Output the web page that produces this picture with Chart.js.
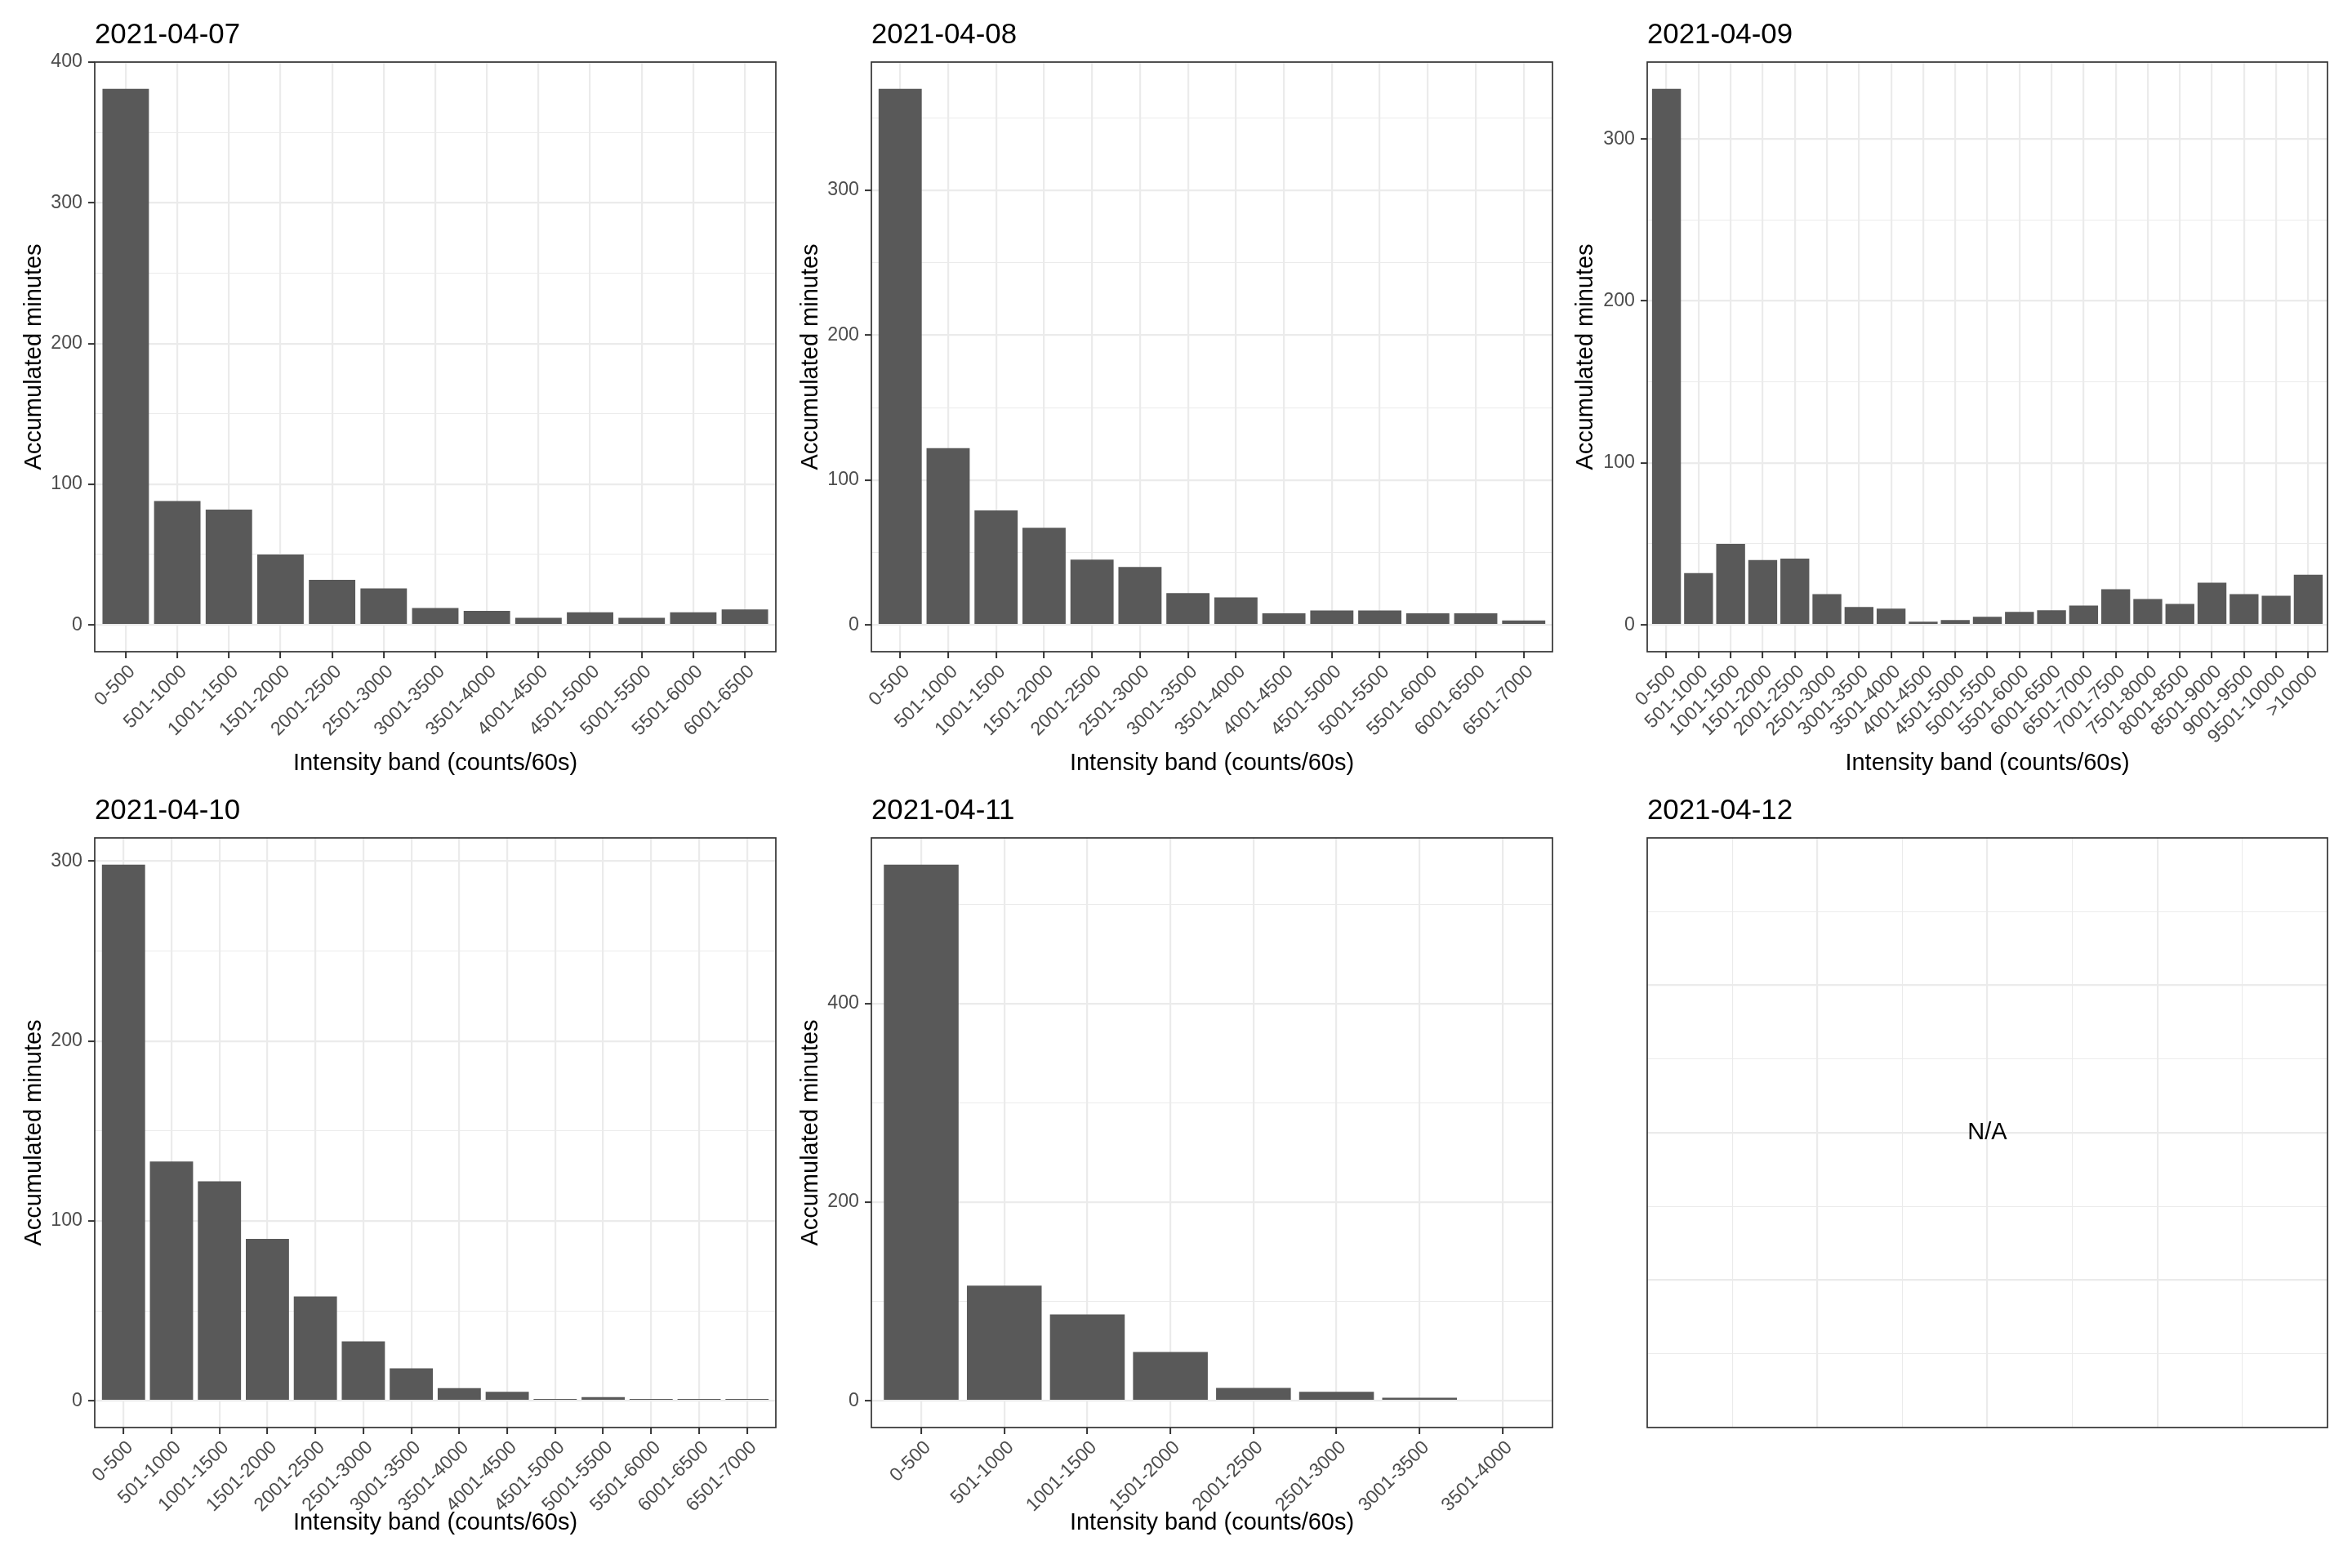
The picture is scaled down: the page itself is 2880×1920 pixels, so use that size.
<!DOCTYPE html>
<html>
<head>
<meta charset="utf-8">
<script src="https://cdn.jsdelivr.net/npm/chart.js@4.4.1/dist/chart.umd.min.js"></script>
<style>
	body { margin: 0; background: #ffffff; }
	#wrap { position: relative; width: 2880px; height: 1920px; background: #ffffff; }
	canvas { position: absolute; }
</style>
</head>
<body>
<div id="wrap">
	<canvas id="c1" width="960" height="960" style="left:0px;top:0px"></canvas>
	<canvas id="c2" width="960" height="960" style="left:960px;top:0px"></canvas>
	<canvas id="c3" width="960" height="960" style="left:1920px;top:0px"></canvas>
	<canvas id="c4" width="960" height="960" style="left:0px;top:960px"></canvas>
	<canvas id="c5" width="960" height="960" style="left:960px;top:960px"></canvas>
	<canvas id="c6" width="960" height="960" style="left:1920px;top:960px"></canvas>
</div>
<script>
// intensity bands (counts/60s)
var bands = ["0-500", "501-1000", "1001-1500", "1501-2000", "2001-2500", "2501-3000", "3001-3500",
	"3501-4000", "4001-4500", "4501-5000", "5001-5500", "5501-6000", "6001-6500", "6501-7000",
	"7001-7500", "7501-8000", "8001-8500", "8501-9000", "9001-9500", "9501-10000", ">10000"];

var labels0407 = bands.slice(0, 13);
var labels0408 = bands.slice(0, 14);
var labels0409 = bands.slice(0, 21);
var labels0410 = bands.slice(0, 14);
var labels0411 = bands.slice(0, 8);

// accumulated minutes per band
var minutes0407 = [381, 88, 82, 50, 32, 26, 12, 10, 5, 9, 5, 9, 11];
var minutes0408 = [370, 122, 79, 67, 45, 40, 22, 19, 8, 10, 10, 8, 8, 3];
var minutes0409 = [331, 32, 50, 40, 41, 19, 11, 10, 2, 3, 5, 8, 9, 12, 22, 16, 13, 26, 19, 18, 31];
var minutes0410 = [298, 133, 122, 90, 58, 33, 18, 7, 5, 1, 2, 1, 1, 1];
var minutes0411 = [540, 116, 87, 49, 13, 9, 3, 1];

// y tick labels (major) and minor grid lines
var yTicks0407 = [0, 100, 200, 300, 400];
var yMinor0407 = [50, 150, 250, 350];
var yTicks0408 = [0, 100, 200, 300];
var yMinor0408 = [50, 150, 250, 350];
var yTicks0409 = [0, 100, 200, 300];
var yMinor0409 = [50, 150, 250];
var yTicks0410 = [0, 100, 200, 300];
var yMinor0410 = [50, 150, 250];
var yTicks0411 = [0, 200, 400];
var yMinor0411 = [100, 300, 500];

var xTitle = "Intensity band (counts/60s)";
var yTitle = "Accumulated minutes";

Chart.defaults.font.family = '"Liberation Sans", Arial, Helvetica, sans-serif';

// panel frame + left aligned title (+ optional centred note)
var frame = {
	id: "frame",
	afterDraw: function(chart, args, opts) {
		var a = chart.chartArea;
		var c = chart.ctx;
		c.save();
		c.strokeStyle = "#333333";
		c.lineWidth = 1.7;
		c.strokeRect(a.left, a.top, a.right - a.left, a.bottom - a.top);
		c.fillStyle = "#000000";
		c.font = '34.8px "Liberation Sans", Arial, sans-serif';
		c.textAlign = "left";
		c.textBaseline = "alphabetic";
		c.fillText(opts.text, a.left, a.top - 23);
		if (opts.note) {
			c.font = '29px "Liberation Sans", Arial, sans-serif';
			c.textAlign = "center";
			c.textBaseline = "middle";
			c.fillText(opts.note, (a.left + a.right) / 2, (a.top + a.bottom) / 2);
		}
		c.restore();
	}
};

function barPanel(p) {
	var ymax = Math.max.apply(null, p.values);
	var lo = -0.05 * ymax, hi = 1.05 * ymax;
	var yAll = p.major.concat(p.minor).filter(function(v) { return v <= hi; });
	var isMajor = function(ctx) { return ctx && ctx.tick && p.major.indexOf(ctx.tick.value) >= 0; };

	new Chart(document.getElementById(p.id), {
		type: "bar",
		data: {
			datasets: [{
				data: p.values.map(function(v, i) { return {x: i, y: v}; }),
				backgroundColor: "#595959",
				borderWidth: 0,
				barPercentage: 0.9,
				categoryPercentage: 1.0
			}]
		},
		plugins: [frame],
		options: {
			responsive: false,
			animation: false,
			devicePixelRatio: 1,
			layout: { padding: { left: 0, top: p.top, right: 960 - p.right, bottom: 0 } },
			plugins: {
				legend: { display: false },
				tooltip: { enabled: false },
				frame: { text: p.title }
			},
			scales: {
				x: {
					type: "linear",
					offset: false,
					bounds: "data",
					min: -0.6,
					max: p.labels.length - 0.4,
					afterBuildTicks: function(s) {
						s.ticks = p.labels.map(function(l, i) { return {value: i}; });
					},
					afterFit: function(s) {
						s.height = 960 - p.bottom;
						s.paddingLeft = 0;
						s.paddingRight = 0;
					},
					grid: {
						offset: false,
						color: "#EBEBEB",
						lineWidth: 2.2,
						tickColor: "#333333",
						tickLength: 8,
						tickWidth: 2
					},
					border: { display: false },
					ticks: {
						autoSkip: false,
						minRotation: 45,
						maxRotation: 45,
						padding: 3,
						labelOffset: 8,
						color: "#4D4D4D",
						font: { size: 23.2 },
						callback: function(v) { return p.labels[v]; }
					},
					title: {
						display: true,
						text: xTitle,
						color: "#000000",
						font: { size: 29 },
						padding: { top: 0, bottom: p.xPad }
					}
				},
				y: {
					type: "linear",
					bounds: "data",
					min: lo,
					max: hi,
					afterBuildTicks: function(s) {
						s.ticks = yAll.map(function(v) { return {value: v}; });
					},
					afterFit: function(s) {
						s.width = p.left;
						s.paddingTop = 0;
						s.paddingBottom = 0;
					},
					grid: {
						color: "#EBEBEB",
						lineWidth: function(ctx) { return isMajor(ctx) ? 2.2 : 1.1; },
						tickColor: function(ctx) { return isMajor(ctx) ? "#333333" : "rgba(0,0,0,0)"; },
						tickLength: 8,
						tickWidth: 2
					},
					border: { display: false },
					ticks: {
						padding: 7,
						color: "#4D4D4D",
						font: { size: 23.2 },
						callback: function(v) { return p.major.indexOf(v) >= 0 ? String(v) : ""; }
					},
					title: {
						display: true,
						text: yTitle,
						color: "#000000",
						font: { size: 29 },
						padding: { top: p.yPad, bottom: 0 }
					}
				}
			}
		}
	});
}

function emptyPanel(p) {
	var lines = [1, 2, 3, 4, 5, 6, 7];
	var lw = function(ctx) { return ctx && ctx.tick && ctx.tick.value % 2 === 0 ? 2.2 : 1.1; };
	var axis = function(isX) {
		return {
			type: "linear",
			bounds: "data",
			min: 0,
			max: 8,
			afterBuildTicks: function(s) {
				s.ticks = lines.map(function(v) { return {value: v}; });
			},
			afterFit: function(s) {
				if (isX) { s.height = 960 - p.bottom; } else { s.width = p.left; }
				s.paddingLeft = 0; s.paddingRight = 0; s.paddingTop = 0; s.paddingBottom = 0;
			},
			grid: { color: "#EBEBEB", lineWidth: lw, drawTicks: false },
			border: { display: false },
			ticks: { display: false }
		};
	};
	new Chart(document.getElementById(p.id), {
		type: "scatter",
		data: { datasets: [{ data: [] }] },
		plugins: [frame],
		options: {
			responsive: false,
			animation: false,
			devicePixelRatio: 1,
			layout: { padding: { left: 0, top: p.top, right: 960 - p.right, bottom: 0 } },
			plugins: {
				legend: { display: false },
				tooltip: { enabled: false },
				frame: { text: p.title, note: "N/A" }
			},
			scales: { x: axis(true), y: axis(false) }
		}
	});
}

barPanel({ id: "c1", title: "2021-04-07", labels: labels0407, values: minutes0407, major: yTicks0407, minor: yMinor0407,
	left: 116, right: 950, top: 76, bottom: 798, yPad: 24.6, xPad: 7.6 });
barPanel({ id: "c2", title: "2021-04-08", labels: labels0408, values: minutes0408, major: yTicks0408, minor: yMinor0408,
	left: 107, right: 941, top: 76, bottom: 798, yPad: 15.6, xPad: 7.6 });
barPanel({ id: "c3", title: "2021-04-09", labels: labels0409, values: minutes0409, major: yTicks0409, minor: yMinor0409,
	left: 97, right: 930, top: 76, bottom: 798, yPad: 4.6, xPad: 7.6 });
barPanel({ id: "c4", title: "2021-04-10", labels: labels0410, values: minutes0410, major: yTicks0410, minor: yMinor0410,
	left: 116, right: 950, top: 66, bottom: 788, yPad: 24.6, xPad: 37.6 });
barPanel({ id: "c5", title: "2021-04-11", labels: labels0411, values: minutes0411, major: yTicks0411, minor: yMinor0411,
	left: 107, right: 941, top: 66, bottom: 788, yPad: 15.6, xPad: 37.6 });
emptyPanel({ id: "c6", title: "2021-04-12", left: 97, right: 930, top: 66, bottom: 788 });
</script>
</body>
</html>
